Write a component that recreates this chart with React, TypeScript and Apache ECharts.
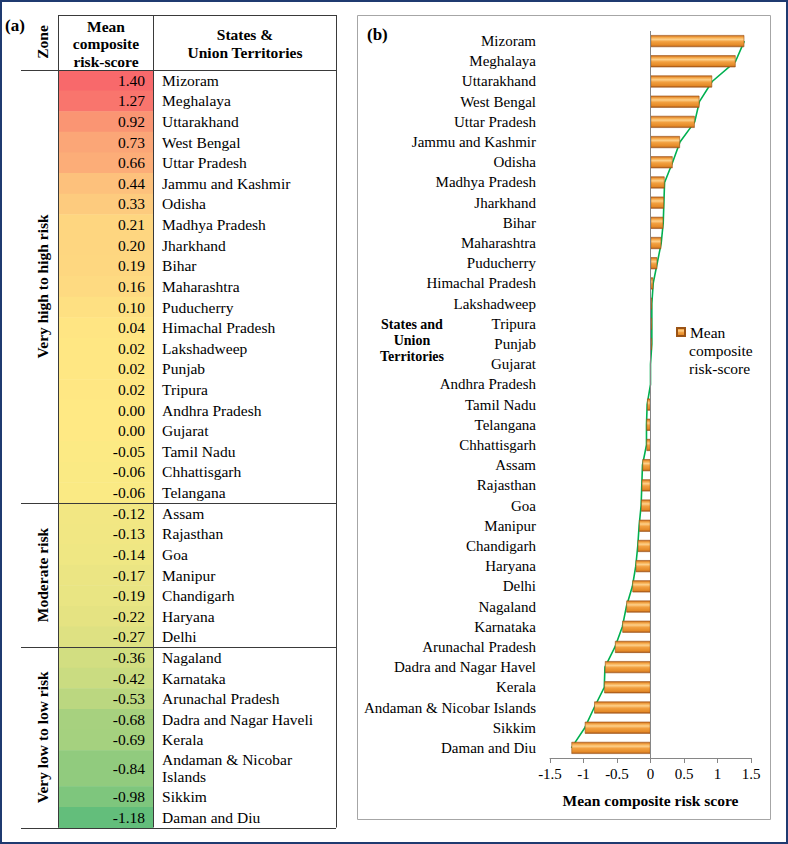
import React, { useEffect, useRef } from "react";
import * as echarts from "echarts";

// ---------- data: table (a) ----------
const TABLE_STATES = [
  "Mizoram", "Meghalaya", "Uttarakhand", "West Bengal", "Uttar Pradesh", "Jammu and Kashmir",
  "Odisha", "Madhya Pradesh", "Jharkhand", "Bihar", "Maharashtra", "Puducherry",
  "Himachal Pradesh", "Lakshadweep", "Punjab", "Tripura", "Andhra Pradesh", "Gujarat",
  "Tamil Nadu", "Chhattisgarh", "Telangana", "Assam", "Rajasthan", "Goa", "Manipur",
  "Chandigarh", "Haryana", "Delhi", "Nagaland", "Karnataka", "Arunachal Pradesh",
  "Dadra and Nagar Haveli", "Kerala", "Andaman & Nicobar Islands", "Sikkim", "Daman and Diu",
];
const TABLE_SCORES = [
  1.4, 1.27, 0.92, 0.73, 0.66, 0.44, 0.33, 0.21, 0.2, 0.19, 0.16, 0.1, 0.04, 0.02, 0.02, 0.02,
  0.0, 0.0, -0.05, -0.06, -0.06, -0.12, -0.13, -0.14, -0.17, -0.19, -0.22, -0.27, -0.36, -0.42,
  -0.53, -0.68, -0.69, -0.84, -0.98, -1.18,
];
const ZONES = ["Very high to high risk", "Moderate risk", "Very low to low risk"];
const ZONE_ROW_COUNTS = [21, 7, 8];
const TALL_ROWS = ["Andaman & Nicobar Islands"];

// ---------- data: chart (b) ----------
const CHART_STATES = [
  "Mizoram", "Meghalaya", "Uttarakhand", "West Bengal", "Uttar Pradesh", "Jammu and Kashmir",
  "Odisha", "Madhya Pradesh", "Jharkhand", "Bihar", "Maharashtra", "Puducherry",
  "Himachal Pradesh", "Lakshadweep", "Tripura", "Punjab", "Gujarat", "Andhra Pradesh",
  "Tamil Nadu", "Telangana", "Chhattisgarh", "Assam", "Rajasthan", "Goa", "Manipur",
  "Chandigarh", "Haryana", "Delhi", "Nagaland", "Karnataka", "Arunachal Pradesh",
  "Dadra and Nagar Havel", "Kerala", "Andaman & Nicobar Islands", "Sikkim", "Daman and Diu",
];
const CHART_SCORES = [
  1.4, 1.27, 0.92, 0.73, 0.66, 0.44, 0.33, 0.21, 0.2, 0.19, 0.16, 0.1, 0.04, 0.02, 0.02, 0.02,
  0.0, 0.0, -0.05, -0.06, -0.06, -0.12, -0.13, -0.14, -0.17, -0.19, -0.22, -0.27, -0.36, -0.42,
  -0.53, -0.68, -0.69, -0.84, -0.98, -1.18,
];
const SERIES_NAME = "Mean composite risk-score";
const X_MIN = -1.5;
const X_MAX = 1.5;
const X_STEP = 0.5;

// ---------- styles ----------
const FONT = "'Liberation Serif', 'Times New Roman', serif";
const TALL_SPAN = 1.75;
const VALUE_COL_FRAC = 0.342;
const RED = [248, 105, 107];
const YELLOW = [255, 235, 132];
const GREEN = [99, 190, 123];

function mix(a: number[], b: number[], t: number) {
  const c = a.map((v, i) => Math.round(v + (b[i] - v) * t));
  return `rgb(${c[0]},${c[1]},${c[2]})`;
}

export default function App() {
  const ref = useRef<HTMLDivElement>(null);

  useEffect(() => {
    document.body.style.margin = "0";
    const chart = echarts.init(ref.current!, null, { renderer: "svg" });

    // 3-colour scale (min green, median yellow, max red)
    const sorted = [...TABLE_SCORES].sort((a, b) => a - b);
    const n = sorted.length;
    const mid = n % 2 ? sorted[(n - 1) / 2] : (sorted[n / 2 - 1] + sorted[n / 2]) / 2;
    const vmin = sorted[0];
    const vmax = sorted[n - 1];
    const scaleColor = (v: number) =>
      v >= mid ? mix(YELLOW, RED, (v - mid) / (vmax - mid)) : mix(YELLOW, GREEN, (mid - v) / (mid - vmin));

    // table rows in slot units
    let acc = 0;
    const tableData = TABLE_STATES.map((s, i) => {
      const span = TALL_ROWS.includes(s) ? TALL_SPAN : 1;
      const start = acc;
      acc += span;
      return [0, start, span, TABLE_SCORES[i], i];
    });
    const totalSlots = acc;
    const zoneStarts = new Set<number>();
    let r = 0;
    const zoneData = ZONES.map((z, zi) => {
      zoneStarts.add(r);
      const s = tableData[r][1] as number;
      const last = tableData[r + ZONE_ROW_COUNTS[zi] - 1];
      const e = (last[1] as number) + (last[2] as number);
      r += ZONE_ROW_COUNTS[zi];
      return [0, s, e, zi];
    });

    const lineStyle = { stroke: "#3a3a3a", lineWidth: 1 };
    const tableTop = 15;
    const tableBottom = 827.5;

    const option: any = {
      animation: false,
      textStyle: { fontFamily: FONT },
      grid: [
        { left: 550, top: 31, width: 201, height: 727, containLabel: false },
        { left: 58, top: 70, width: 278, height: 757.5, containLabel: false },
      ],
      xAxis: [
        {
          gridIndex: 0,
          type: "value",
          min: X_MIN,
          max: X_MAX,
          interval: X_STEP,
          splitLine: { show: false },
          axisLine: { show: true, lineStyle: { color: "#868686", width: 1 } },
          axisTick: { show: true, length: 5, lineStyle: { color: "#868686" } },
          axisLabel: { color: "#000", fontSize: 15, fontFamily: FONT, margin: 8 },
          name: "Mean composite risk score",
          nameLocation: "middle",
          nameGap: 34,
          nameTextStyle: { color: "#000", fontSize: 15.5, fontWeight: "bold", fontFamily: FONT },
        },
        { gridIndex: 1, type: "value", min: 0, max: 1, show: false },
      ],
      yAxis: [
        {
          gridIndex: 0,
          type: "category",
          data: CHART_STATES,
          inverse: true,
          axisLine: { show: false, onZero: false },
          axisTick: { show: false },
          splitLine: { show: false },
          axisLabel: { color: "#000", fontSize: 15, fontFamily: FONT, margin: 14 },
        },
        { gridIndex: 1, type: "value", min: 0, max: totalSlots, inverse: true, show: false },
      ],
      legend: {
        data: [SERIES_NAME],
        left: 676,
        top: 323,
        padding: 0,
        itemWidth: 8,
        itemHeight: 8,
        itemGap: 5,
        icon: "rect",
        formatter: () => "Mean",
        textStyle: { color: "#000", fontSize: 15.5, fontFamily: FONT, lineHeight: 18 },
        selectedMode: false,
      },
      series: [
        {
          name: "series line",
          type: "line",
          xAxisIndex: 0,
          yAxisIndex: 0,
          data: CHART_SCORES,
          symbol: "none",
          z: 1,
          lineStyle: { color: "#00B050", width: 1.6 },
          silent: true,
        },
        {
          name: SERIES_NAME,
          type: "bar",
          xAxisIndex: 0,
          yAxisIndex: 0,
          data: CHART_SCORES,
          barWidth: 12,
          z: 3,
          itemStyle: {
            color: new echarts.graphic.LinearGradient(0, 0, 0, 1, [
              { offset: 0, color: "#C96A1A" },
              { offset: 0.18, color: "#F5A94A" },
              { offset: 0.35, color: "#FDD08A" },
              { offset: 0.55, color: "#F2A040" },
              { offset: 0.85, color: "#E48A28" },
              { offset: 1, color: "#A9581A" },
            ]),
            borderColor: "#9A5316",
            borderWidth: 0.6,
          },
          markLine: {
            silent: true,
            symbol: "none",
            label: { show: false },
            lineStyle: { color: "#868686", width: 1, type: "solid" },
            data: [{ xAxis: 0 }],
          },
        },
        {
          name: "table",
          type: "custom",
          xAxisIndex: 1,
          yAxisIndex: 1,
          encode: { x: 0, y: 1 },
          data: tableData,
          silent: true,
          renderItem: (params: any, api: any) => {
            const start = api.value(1);
            const span = api.value(2);
            const v = api.value(3);
            const idx = api.value(4);
            const a = api.coord([0, start]);
            const b = api.coord([1, start + span]);
            const x0 = a[0];
            const x1 = b[0];
            const y0 = Math.min(a[1], b[1]);
            const y1 = Math.max(a[1], b[1]);
            const sx = x0 + (x1 - x0) * VALUE_COL_FRAC;
            const ym = (y0 + y1) / 2;
            const children: any[] = [
              {
                type: "rect",
                shape: { x: x0, y: y0, width: sx - x0, height: y1 - y0 + 0.5 },
                style: { fill: scaleColor(v) },
              },
              {
                type: "text",
                style: {
                  text: v.toFixed(2),
                  x: sx - 8,
                  y: ym,
                  align: "right",
                  verticalAlign: "middle",
                  font: `15.5px ${FONT}`,
                  fill: "#000",
                },
              },
              {
                type: "text",
                style: {
                  text: TABLE_STATES[idx],
                  x: sx + 9,
                  y: ym,
                  align: "left",
                  verticalAlign: "middle",
                  font: `15.5px ${FONT}`,
                  fill: "#000",
                  width: 160,
                  overflow: "break",
                  lineHeight: 17,
                },
              },
            ];
            if (zoneStarts.has(idx)) {
              children.push({
                type: "line",
                shape: { x1: 21, y1: Math.round(y0) + 0.5, x2: x1, y2: Math.round(y0) + 0.5 },
                style: lineStyle,
              });
            }
            if (idx === TABLE_STATES.length - 1) {
              children.push({
                type: "line",
                shape: { x1: 21, y1: Math.round(y1) + 0.5, x2: x1, y2: Math.round(y1) + 0.5 },
                style: lineStyle,
              });
            }
            return { type: "group", children };
          },
          z: 2,
        },
        {
          name: "zones",
          type: "custom",
          xAxisIndex: 1,
          yAxisIndex: 1,
          encode: { x: 0, y: 1 },
          data: zoneData,
          silent: true,
          renderItem: (params: any, api: any) => {
            const s = api.coord([0, api.value(1)]);
            const e = api.coord([0, api.value(2)]);
            return {
              type: "text",
              x: s[0] - 16,
              y: (s[1] + e[1]) / 2,
              rotation: Math.PI / 2,
              style: {
                text: ZONES[api.value(3)],
                x: 0,
                y: 0,
                align: "center",
                verticalAlign: "middle",
                font: `bold 15.5px ${FONT}`,
                fill: "#000",
              },
            };
          },
          z: 3,
        },
      ],
      graphic: [
        // outer frame
        {
          type: "rect",
          shape: { x: 1, y: 1, width: 786, height: 842 },
          style: { fill: "none", stroke: "#1F3A70", lineWidth: 2 },
          silent: true,
          z: 10,
        },
        // table (a) frame lines
        { type: "line", shape: { x1: 58.5, y1: tableTop, x2: 58.5, y2: tableBottom }, style: lineStyle, z: 10 },
        { type: "line", shape: { x1: 153.5, y1: tableTop, x2: 153.5, y2: tableBottom }, style: lineStyle, z: 10 },
        { type: "line", shape: { x1: 336.5, y1: tableTop, x2: 336.5, y2: tableBottom }, style: lineStyle, z: 10 },
        { type: "line", shape: { x1: 58.5, y1: tableTop + 0.5, x2: 336.5, y2: tableTop + 0.5 }, style: lineStyle, z: 10 },
        {
          type: "text",
          style: { text: "(a)", x: 5, y: 25, verticalAlign: "middle", font: `bold 17px ${FONT}`, fill: "#000" },
        },
        {
          type: "text",
          x: 42,
          y: 42,
          rotation: Math.PI / 2,
          style: { text: "Zone", x: 0, y: 0, align: "center", verticalAlign: "middle", font: `bold 15.5px ${FONT}`, fill: "#000" },
        },
        {
          type: "text",
          style: {
            text: "Mean\ncomposite\nrisk-score",
            x: 106,
            y: 43.5,
            align: "center",
            verticalAlign: "middle",
            lineHeight: 17.5,
            font: `bold 15.5px ${FONT}`,
            fill: "#000",
          },
        },
        {
          type: "text",
          style: {
            text: "States &\nUnion Territories",
            x: 245,
            y: 43,
            align: "center",
            verticalAlign: "middle",
            lineHeight: 18,
            font: `bold 15.5px ${FONT}`,
            fill: "#000",
          },
        },
        // chart (b) box
        {
          type: "rect",
          shape: { x: 357.5, y: 15.5, width: 413, height: 804 },
          style: { fill: "none", stroke: "#A6A6A6", lineWidth: 1 },
          silent: true,
        },
        {
          type: "text",
          style: { text: "(b)", x: 367, y: 34, verticalAlign: "middle", font: `bold 17px ${FONT}`, fill: "#000" },
        },
        {
          type: "text",
          style: {
            text: "States and\nUnion\nTerritories",
            x: 412,
            y: 340,
            align: "center",
            verticalAlign: "middle",
            lineHeight: 16,
            font: `bold 14px ${FONT}`,
            fill: "#000",
          },
        },
        {
          type: "text",
          style: {
            text: "composite\nrisk-score",
            x: 689,
            y: 341,
            align: "left",
            verticalAlign: "top",
            lineHeight: 18,
            font: `15.5px ${FONT}`,
            fill: "#000",
          },
        },
      ],
    };

    chart.setOption(option);
    return () => chart.dispose();
  }, []);

  return <div ref={ref} style={{ width: 788, height: 844 }} />;
}
